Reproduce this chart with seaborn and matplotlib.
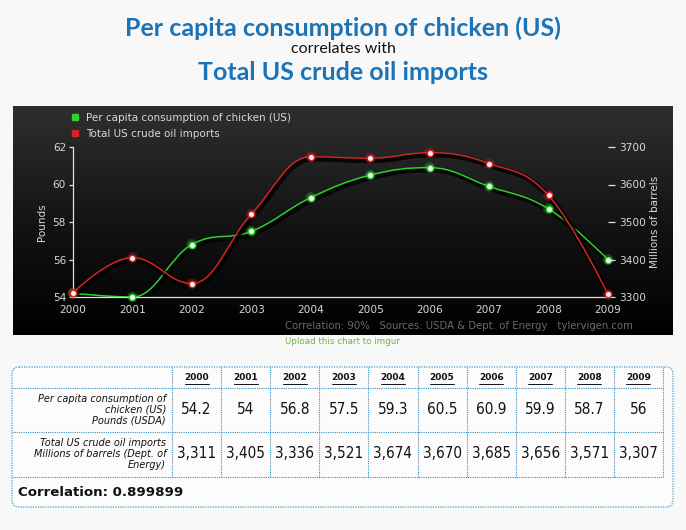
import numpy as np
import matplotlib
matplotlib.use('Agg')
import matplotlib.pyplot as plt
import matplotlib.patheffects as pe
from matplotlib.colors import LinearSegmentedColormap
from matplotlib.lines import Line2D
from matplotlib.patches import PathPatch, FancyBboxPatch
from matplotlib.path import Path
import pandas as pd
import seaborn as sns

years = [2000, 2001, 2002, 2003, 2004, 2005, 2006, 2007, 2008, 2009]
chicken = [54.2, 54, 56.8, 57.5, 59.3, 60.5, 60.9, 59.9, 58.7, 56]
oil = [3311, 3405, 3336, 3521, 3674, 3670, 3685, 3656, 3571, 3307]
chicken_name = 'Per capita consumption of chicken (US)'
oil_name = 'Total US crude oil imports'
correlation = 0.899899

df = pd.DataFrame({'year': years, 'chicken': chicken, 'oil': oil})

RED = '#d42424'
GREEN = '#2ed12e'
BLUE = '#1b74b8'
TXT = '#d8d8d8'

sns.set_style('white')
plt.rcParams['font.family'] = ['DejaVu Sans']


def spline_path(xs, ys, smoothing=1.5):
    # highcharts-style spline: bezier control points from neighbouring points
    n = len(xs)
    verts = [(xs[0], ys[0])]
    codes = [Path.MOVETO]
    ctrl = []
    for i in range(n):
        x, y = xs[i], ys[i]
        if i == 0 or i == n - 1:
            ctrl.append(((x, y), (x, y)))
            continue
        lx, ly = xs[i - 1], ys[i - 1]
        nx, ny = xs[i + 1], ys[i + 1]
        d = smoothing + 1
        lcx = (smoothing * x + lx) / d
        lcy = (smoothing * y + ly) / d
        rcx = (smoothing * x + nx) / d
        rcy = (smoothing * y + ny) / d
        corr = (rcy - lcy) * (rcx - x) / (rcx - lcx) + y - rcy
        lcy += corr
        rcy += corr
        if lcy > ly and lcy > y:
            lcy = max(ly, y)
            rcy = 2 * y - lcy
        elif lcy < ly and lcy < y:
            lcy = min(ly, y)
            rcy = 2 * y - lcy
        if rcy > ny and rcy > y:
            rcy = max(ny, y)
            lcy = 2 * y - rcy
        elif rcy < ny and rcy < y:
            rcy = min(ny, y)
            lcy = 2 * y - rcy
        ctrl.append(((lcx, lcy), (rcx, rcy)))
    for i in range(1, n):
        verts += [ctrl[i - 1][1], ctrl[i][0], (xs[i], ys[i])]
        codes += [Path.CURVE4] * 3
    return Path(verts, codes)


fig = plt.figure(figsize=(6.86, 5.30), dpi=100)
fig.patch.set_facecolor('#f8f8f8')

# overlay in pixel coordinates for the page furniture
ov = fig.add_axes([0, 0, 1, 1])
ov.set_xlim(0, 686)
ov.set_ylim(530, 0)
ov.axis('off')

# titles
ov.text(343, 28, chicken_name, ha='center', va='center', color=BLUE,
        fontsize=18, fontweight='bold', family='Lato')
ov.text(343, 49, 'correlates with', ha='center', va='center', color='#111111',
        fontsize=11.5, family='Lato')
ov.text(343, 73, oil_name, ha='center', va='center', color=BLUE,
        fontsize=18, fontweight='bold', family='Lato')

# dark chart panel
grad = np.linspace(0, 1, 256).reshape(-1, 1)
cmap = LinearSegmentedColormap.from_list('panel', ['#2f2f2f', '#141414', '#000000'])
ov.imshow(grad, extent=(13, 673, 335, 106), aspect='auto', cmap=cmap, zorder=0)

ov.text(633, 326, 'Correlation: 90%   Sources: USDA & Dept. of Energy   tylervigen.com',
        ha='right', va='center', color='#6a6a6a', fontsize=7.3)
ov.text(285, 341, 'Upload this chart to imgur', ha='left', va='center',
        color='#6db33f', fontsize=6.3)

# table
ov.add_patch(FancyBboxPatch((12, 367), 661, 140, boxstyle='round,pad=0,rounding_size=7',
                            ec='#4a9ccc', fc='#fcfcfc', lw=0.9, ls=(0, (1, 1))))
edges = np.linspace(172, 663, len(years) + 1)
centers = (edges[:-1] + edges[1:]) / 2
dot = dict(color='#3a8fc4', lw=0.8, ls=(0, (1, 1)))
for yy in [388, 432, 477]:
    ov.plot([12, 663], [yy, yy], **dot)
for xx in edges:
    ov.plot([xx, xx], [367, 477], **dot)
for c, yr in zip(centers, years):
    ov.text(c, 378, str(yr), ha='center', va='center', fontsize=6.5,
            fontweight='bold', color='#111111')
    ov.plot([c - 12, c + 12], [384, 384], color='#111111', lw=0.7)
val = dict(ha='center', va='center', fontsize=11, color='#111111',
           family='DejaVu Sans', fontstretch='condensed', fontweight='medium')
for c, v in zip(centers, chicken):
    ov.text(c, 410, f'{v:g}', **val)
for c, v in zip(centers, oil):
    ov.text(c, 454, f'{v:,}', **val)
ov.text(166, 410, 'Per capita consumption of\nchicken (US)\nPounds (USDA)', ha='right',
        va='center', fontsize=7, style='italic', color='#111111', linespacing=1.1)
ov.text(166, 454, 'Total US crude oil imports\nMillions of barrels (Dept. of\nEnergy)',
        ha='right', va='center', fontsize=7, style='italic', color='#111111',
        linespacing=1.1)
ov.text(18, 492, f'Correlation: {correlation}', ha='left', va='center', fontsize=9.6,
        fontweight='bold', color='#111111')

# chart axes
ax = fig.add_axes([73 / 686, 1 - 297 / 530, 535 / 686, 150 / 530])
ax.patch.set_alpha(0)
ax2 = ax.twinx()
ax2.patch.set_alpha(0)

shadow = [pe.SimpleLineShadow(offset=(1, -1.5), shadow_color='black', alpha=0.8,
                              linewidth=4), pe.Normal()]
ax.add_patch(PathPatch(spline_path(years, chicken), fc='none', ec=GREEN, lw=1.1,
                       path_effects=shadow, clip_on=False, zorder=2))
ax2.add_patch(PathPatch(spline_path(years, oil), fc='none', ec=RED, lw=1.1,
                        path_effects=shadow, clip_on=False, zorder=2))

for a, col, color, core in [(ax, 'chicken', GREEN, '#f0fff0'), (ax2, 'oil', RED, '#fff0f0')]:
    sns.scatterplot(data=df, x='year', y=col, ax=a, s=60, color=color, alpha=0.3,
                    edgecolor='none', clip_on=False, zorder=3, legend=False)
    sns.scatterplot(data=df, x='year', y=col, ax=a, s=20, color=core,
                    edgecolor=color, linewidth=0.9, clip_on=False, zorder=4,
                    legend=False)

ax.set_xlim(2000, 2009)
ax.set_ylim(54, 62)
ax2.set_ylim(3300, 3700)
ax.set_xticks(years)
ax.set_yticks([54, 56, 58, 60, 62])
ax2.set_yticks([3300, 3400, 3500, 3600, 3700])

for s in ['top', 'right']:
    ax.spines[s].set_visible(False)
for s in ax2.spines.values():
    s.set_visible(False)
ax.spines['left'].set_color('#e0e0e0')
ax.spines['bottom'].set_color('#e0e0e0')
ax.spines['left'].set_linewidth(0.9)
ax.spines['bottom'].set_linewidth(0.9)
ax.tick_params(axis='both', colors='#e0e0e0', labelcolor=TXT, labelsize=7.6,
               direction='out', length=3, width=0.9, pad=2)
ax.tick_params(axis='x', pad=3)
ax2.tick_params(axis='y', colors='#e0e0e0', labelcolor=TXT, labelsize=7.6,
                direction='out', length=5, width=0.9, pad=3)
ax.set_xlabel('')
ax.set_ylabel('Pounds', color=TXT, fontsize=7.5, labelpad=4)
ax2.set_ylabel('Millions of barrels', color=TXT, fontsize=7.5, labelpad=3)

handles = [Line2D([], [], ls='none', marker='s', markersize=5, color=GREEN, label=chicken_name),
           Line2D([], [], ls='none', marker='s', markersize=5, color=RED, label=oil_name)]
leg = ax.legend(handles=handles, loc='upper left', bbox_to_anchor=(71 / 686, 1 - 113 / 530),
                bbox_transform=fig.transFigure, frameon=False, fontsize=7.5,
                labelcolor=TXT, handlelength=0.8, handletextpad=0.6, borderpad=0,
                labelspacing=0.55, borderaxespad=0)

fig.savefig('out.png', dpi=100, facecolor=fig.get_facecolor())
